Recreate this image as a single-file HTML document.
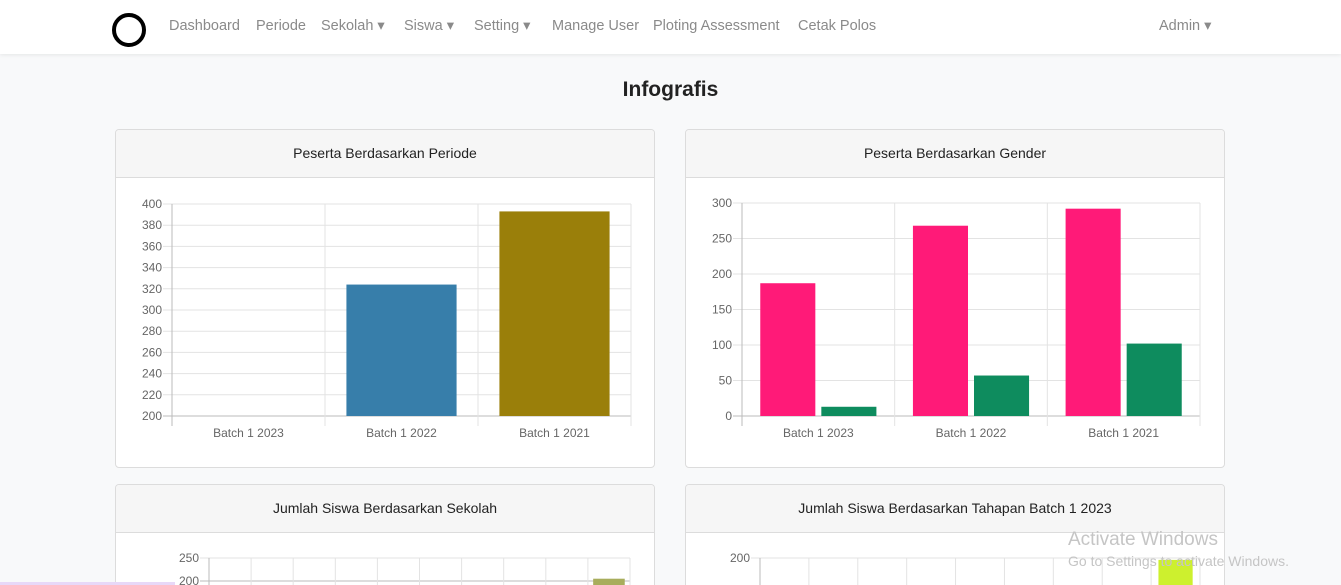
<!DOCTYPE html>
<html style="overflow:hidden;height:585px"><head><meta charset="utf-8"><style>
body{margin:0;width:1341px;height:585px;overflow:hidden;background:#f8f9fa;font-family:"Liberation Sans",sans-serif;position:relative}
.nav{position:absolute;left:0;top:0;width:1341px;height:54px;background:#fff;box-shadow:0 1px 4px rgba(0,0,0,.08)}
.nav a{position:absolute;top:18px;font-size:14.5px;color:#8a8a8a;text-decoration:none}
.logo{position:absolute;left:112px;top:13px;border:4px solid #000;border-radius:50%;box-sizing:content-box;width:26px;height:26px}
h1{position:absolute;left:0;width:1341px;top:78px;margin:0;text-align:center;font-size:21px;font-weight:bold;color:#222}
.card{position:absolute;background:#fff;border:1px solid #dcdcdc;border-radius:4px;overflow:hidden;box-sizing:border-box}
.card.b{border-bottom:none;border-radius:4px 4px 0 0}
.card .hd{height:47px;background:#f6f6f6;border-bottom:1px solid #dcdcdc;text-align:center;line-height:47px;font-size:14px;color:#222}
svg{position:absolute;left:0;top:0}
.wm{position:absolute;color:#c5c5c5;font-size:19px}
</style></head><body>
<div class="nav">
<div class="logo"></div>
<a style="left:169px">Dashboard</a>
<a style="left:256px">Periode</a>
<a style="left:321px">Sekolah ▾</a>
<a style="left:404px">Siswa ▾</a>
<a style="left:474px">Setting ▾</a>
<a style="left:552px">Manage User</a>
<a style="left:653px">Ploting Assessment</a>
<a style="left:798px">Cetak Polos</a>
<a style="left:1159px">Admin ▾</a>
</div>
<h1>Infografis</h1>
<div class="card" style="left:115px;top:129px;width:540px;height:339px"><div class="hd">Peserta Berdasarkan Periode</div></div>
<div class="card" style="left:685px;top:129px;width:540px;height:339px"><div class="hd">Peserta Berdasarkan Gender</div></div>
<div class="card b" style="left:115px;top:484px;width:540px;height:101px"><div class="hd">Jumlah Siswa Berdasarkan Sekolah</div></div>
<div class="card b" style="left:685px;top:484px;width:540px;height:101px"><div class="hd">Jumlah Siswa Berdasarkan Tahapan Batch 1 2023</div></div>
<svg id="s" width="1341" height="585"></svg>
<div class="wm" style="left:1068px;top:529px">Activate Windows</div>
<div class="wm" style="left:1068px;top:553px;font-size:14px">Go to Settings to activate Windows.</div>
<div style="position:absolute;left:0;top:582px;width:175px;height:3px;background:#e8d8f8"></div>
<script>
const periodeCats=["Batch 1 2023","Batch 1 2022","Batch 1 2021"];
const periodeVals=[200,324,393];
const periodeColors=["#377eaa","#377eaa","#9a7f0a"];
const periodeTicks=[200,220,240,260,280,300,320,340,360,380,400];
const genderCats=["Batch 1 2023","Batch 1 2022","Batch 1 2021"];
const genderMale=[187,268,292];
const genderFemale=[13,57,102];
const genderTicks=[0,50,100,150,200,250,300];
const sekolahTicks=[200,250];
const sekolahVals=[0,0,0,0,0,0,0,0,0,205];
const tahapanTicks=[150,200];
const tahapanVals=[0,0,0,0,0,0,0,0,198];
const NS="http://www.w3.org/2000/svg",S=document.getElementById('s');
function el(t,a,txt){const e=document.createElementNS(NS,t);for(const k in a)e.setAttribute(k,a[k]);if(txt!=null)e.textContent=txt;S.appendChild(e);return e;}
function chart(x0,x1,yTop,yBot,tmin,tmax,ticks,ncat,cats,series,colors,frac,base){
 const y=v=>yBot-(v-tmin)/(tmax-tmin)*(yBot-yTop);
 const clipY=585;
 const cw=(x1-x0)/ncat;
 ticks.forEach(t=>{const yy=y(t);
  let g=el('line',{x1:x0-9,x2:x1,y1:yy,y2:yy,stroke:t===tmin?'#bbb':'#e3e3e3'});
  
  let l=el('text',{x:x0-10,y:yy+4,'text-anchor':'end','font-size':12,fill:'#666'},t);
  });
 for(let i=0;i<=ncat;i++){const xx=x0+i*cw;
  let g=el('line',{x1:xx,x2:xx,y1:yTop,y2:Math.min(yBot+10,clipY),stroke:i===0?'#bbb':'#e3e3e3'});
  }
 const ns=series.length,bw=cw*frac/ns;
 const yb=Math.min(y(base),clipY);
 for(let i=0;i<ncat;i++){
  series.forEach((s,j)=>{const v=s[i];if(v<=base||v<=0)return;
   const bx=x0+i*cw+cw*(1-frac)/2+j*bw;const top=y(v);
   let r=el('rect',{x:bx+(ns>1?3:0),y:top,width:bw-(ns>1?6:0),height:Math.max(0,yb-top),fill:Array.isArray(colors[j])?colors[j][i]:colors[j]});
   });
  if(cats){let l=el('text',{x:x0+i*cw+cw/2,y:yBot+21,'text-anchor':'middle','font-size':12,fill:'#666'},cats[i]);
   }
 }
}
chart(172,631,204,416,200,400,periodeTicks,3,periodeCats,[periodeVals],[periodeColors],0.72,200);
chart(742,1200,203,416,0,300,genderTicks,3,genderCats,[genderMale,genderFemale],["#ff1a78","#0e8c5e"],0.8,0);
chart(209,630,558,581,200,250,sekolahTicks,10,null,[sekolahVals],["#a8ad5c"],0.75,0);
chart(760,1200,558,605,150,200,tahapanTicks,9,null,[tahapanVals],["#cdf02e"],0.7,0);
</script>
</body></html>
